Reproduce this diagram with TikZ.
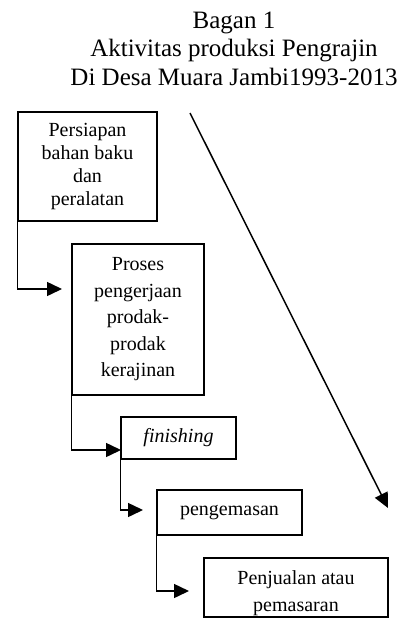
\documentclass[tikz,border=0pt]{standalone}
\usepackage{fontspec}
\setmainfont{Liberation Serif}
\usetikzlibrary{arrows.meta}

\begin{document}
\begin{tikzpicture}[
    x=0.5pt, y=-0.5pt,
    % === GAYA ===
    box/.style={draw, line width=0.75pt, inner sep=0pt, align=center, font=\fontsize{10}{11.5}\selectfont},
    flow line/.style={line width=0.75pt, -{Triangle[length=7.5pt, width=7pt]}},
    title text/.style={align=center, font=\fontsize{12.5}{14.25}\selectfont},
]
    \useasboundingbox (0,0) rectangle (401,627);

    % === JUDUL ===
    \node[title text, anchor=base] (judul) at (234,85) {Bagan 1\\ Aktivitas produksi Pengrajin\\ Di Desa Muara Jambi1993-2013};

    % === KOTAK TAHAPAN ===
    \node[box, minimum width=69.5pt, minimum height=54.5pt, font=\fontsize{10}{11.4}\selectfont] (persiapan) at (87.5,166.5) {Persiapan\\ bahan baku\\ dan\\ peralatan};
    \node[box, minimum width=66pt, minimum height=75.5pt, font=\fontsize{10}{13.25}\selectfont] (proses) at (138,319.5) {Proses\\ pengerjaan\\ prodak-\\ prodak\\ kerajinan};
    \node[box, minimum width=57.5pt, minimum height=21pt] (finishing) at (178.5,438) {\textit{finishing}};
    \node[box, minimum width=72.5pt, minimum height=22.5pt] (kemas) at (229.5,512.5) {pengemasan};
    \node[box, minimum width=92pt, minimum height=29.5pt, text height=24pt, text depth=0pt, font=\fontsize{10}{13.5}\selectfont] (jual) at (296,587.5) {Penjualan atau\\ pemasaran};

    % === UJUNG PANAH ===
    \coordinate (u1) at (62,289);
    \coordinate (u2) at (121,450);
    \coordinate (u3) at (143,510);
    \coordinate (u4) at (189,591);
    \coordinate (d1) at (190,113);
    \coordinate (d2) at (388,508);

    % === PANAH ===
    \draw[flow line] (persiapan.south west) |- (u1);
    \draw[flow line] (proses.south west) |- (u2);
    \draw[flow line] (finishing.south west) |- (u3);
    \draw[flow line] (kemas.south west) |- (u4);
    \draw[flow line] (d1) -- (d2);

\end{tikzpicture}
\end{document}
